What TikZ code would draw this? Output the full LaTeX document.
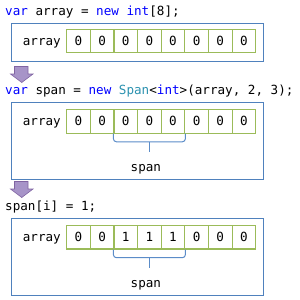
\documentclass[tikz,border=0pt]{standalone}
\usepackage{fontspec}
\setmonofont{DejaVu Sans Mono}
\definecolor{kw}{HTML}{0000FF}
\definecolor{ty}{HTML}{2B91AF}
\definecolor{boxc}{HTML}{4F81BD}
\definecolor{cellc}{HTML}{9BBB59}
\definecolor{arrf}{HTML}{A794C8}
\definecolor{arrd}{HTML}{8064A2}
\definecolor{brc}{HTML}{5B8CC8}
\begin{document}
\begin{tikzpicture}[x=1pt,y=-1pt,
  font=\fontsize{12.6}{14}\selectfont\ttfamily,
  codeline/.style={anchor=base west, inner sep=0pt},
  cellbox/.style={draw=cellc, line width=1.1pt, minimum width=23.625pt, minimum height=23.5pt, inner sep=0pt},
  panel/.style={draw=boxc, line width=0.9pt},
  bracepath/.style={draw=brc, line width=1pt, rounded corners=3pt},
  downarrow/.style={fill=arrf, draw=arrd, line width=0.6pt, line join=miter},
  lbl/.style={anchor=base west, inner sep=0pt}]
\useasboundingbox (0,0) rectangle (300,300);

% code lines
\node[codeline] (l1) at (5,15.3) {\textcolor{kw}{var} array = \textcolor{kw}{new} \textcolor{kw}{int}[8];};
\node[codeline] (l2) at (5,94) {\textcolor{kw}{var} span = \textcolor{kw}{new} \textcolor{ty}{Span}<\textcolor{kw}{int}>(array, 2, 3);};
\node[codeline] (l3) at (5,210.5) {span[i] = 1;};

% panels
\draw[panel] (11.7,23.3) rectangle (263.3,61);
\draw[panel] (11.7,102.7) rectangle (263.3,179.3);
\draw[panel] (11.7,218.3) rectangle (263.3,295.7);

% arrows
\draw[downarrow] (14.5,66.5) -- (28,66.5) -- (28,74) -- (33,74) -- (21.75,82.5) -- (10.5,74) -- (14.5,74) -- cycle;
\draw[downarrow] (14.5,181.5) -- (28,181.5) -- (28,189) -- (33,189) -- (21.75,197.5) -- (10.5,189) -- (14.5,189) -- cycle;

% row labels
\node[lbl] (a1) at (22.7,45) {array};
\node[lbl] (a2) at (22.7,125.3) {array};
\node[lbl] (a3) at (22.7,241.6) {array};

% cells
\foreach \i/\v in {1/0,2/0,3/0,4/0,5/0,6/0,7/0,8/0}
  \node[cellbox] (r1c\i) at ({66.7+11.8125+(\i-1)*23.625},41) {\v};
\foreach \i/\v in {1/0,2/0,3/0,4/0,5/0,6/0,7/0,8/0}
  \node[cellbox] (r2c\i) at ({66.7+11.8125+(\i-1)*23.625},121.3) {\v};
\foreach \i/\v in {1/0,2/0,3/1,4/1,5/1,6/0,7/0,8/0}
  \node[cellbox] (r3c\i) at ({66.7+11.8125+(\i-1)*23.625},237.2) {\v};

% braces
\coordinate (m2) at (149.4,141.8);
\coordinate (t2) at (149.4,151.7);
\draw[bracepath] (r2c3.south west) |- (m2) -| (r2c5.south east);
\draw[draw=brc, line width=1pt] (m2) -- (t2);
\node[lbl] (s2) at (130.5,171.2) {span};

\coordinate (m3) at (149.4,257.7);
\coordinate (t3) at (149.4,267.6);
\draw[bracepath] (r3c3.south west) |- (m3) -| (r3c5.south east);
\draw[draw=brc, line width=1pt] (m3) -- (t3);
\node[lbl] (s3) at (130.5,287.2) {span};
\end{tikzpicture}
\end{document}
